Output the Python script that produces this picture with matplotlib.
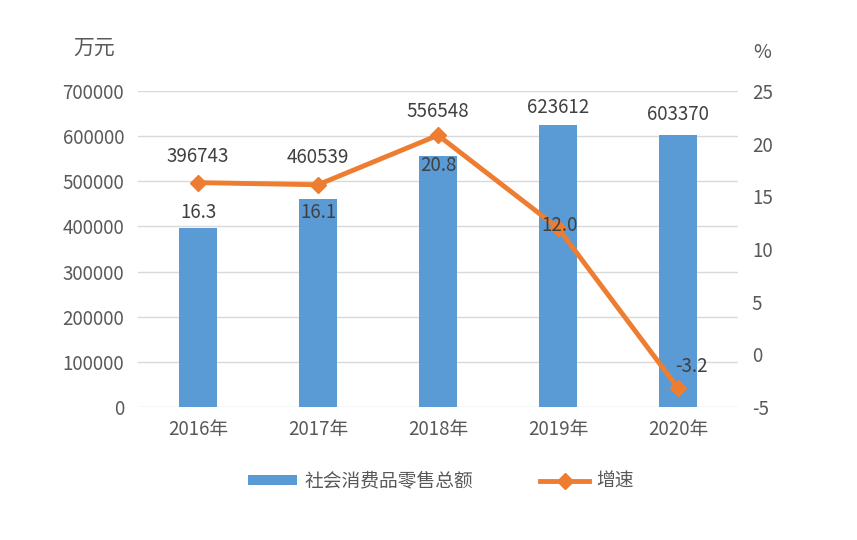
import matplotlib.pyplot as plt
import numpy as np

plt.rcParams['font.family'] = ['Noto Sans CJK SC', 'DejaVu Sans']
plt.rcParams['axes.unicode_minus'] = False

years = ["2016年", "2017年", "2018年", "2019年", "2020年"]
sales = [396743, 460539, 556548, 623612, 603370]
growth = [16.3, 16.1, 20.8, 12.0, -3.2]

# label offsets in pixels (dx, dy) from the bar top / line point
bar_off = [(0, 71), (0, 42), (0, 44), (0, 18), (0, 20)]
line_off = [(0, -30), (0, -28), (0, -30), (2, 2), (13, 22)]

grey = "#595959"
blue = "#5B9BD5"
orange = "#ED7D31"
fs = 13.5

fig = plt.figure(figsize=(8.57, 5.4), dpi=100)
ax1 = fig.add_axes([138/857, 1-407/540, 600/857, 316/540])
x = np.arange(len(years))

ax1.bar(x, sales, width=0.32, color=blue, zorder=2, label="社会消费品零售总额")
ax1.set_ylim(0, 700000)
ax1.set_xlim(-0.5, 4.5)
ax1.set_yticks(np.arange(0, 700001, 100000))
ax1.set_xticks(x, years)
ax1.grid(axis="y", color="#d9d9d9", linewidth=1, zorder=0)
for s in ax1.spines.values():
    s.set_visible(False)
ax1.tick_params(length=0, labelsize=fs, labelcolor=grey)
ax1.tick_params(axis="y", pad=10)
ax1.tick_params(axis="x", pad=9)

ax2 = ax1.twinx()
ax2.plot(x, growth, color=orange, linewidth=3.5, marker="D", markersize=8,
         zorder=3, label="增速")
ax2.set_ylim(-5, 25)
ax2.set_yticks(np.arange(-5, 26, 5))
for s in ax2.spines.values():
    s.set_visible(False)
ax2.tick_params(length=0, labelsize=fs, labelcolor=grey, pad=10)

for i in range(len(x)):
    dx, dy = bar_off[i]
    ax1.annotate(str(sales[i]), (x[i], sales[i]), xytext=(dx*0.72, dy*0.72),
                 textcoords="offset points", ha="center", va="center",
                 fontsize=fs, color="#404040", zorder=5)
    dx, dy = line_off[i]
    ax2.annotate(f"{growth[i]:.1f}", (x[i], growth[i]), xytext=(dx*0.72, dy*0.72),
                 textcoords="offset points", ha="center", va="center",
                 fontsize=fs, color="#404040", zorder=5)

fig.text(94/857, 1-48/540, "万元", ha="center", va="center", fontsize=15, color=grey)
fig.text(762/857, 1-52/540, "%", ha="center", va="center", fontsize=14, color=grey)

h1, l1 = ax1.get_legend_handles_labels()
h2, l2 = ax2.get_legend_handles_labels()
fig.legend(h1 + h2, l1 + l2, loc="center", bbox_to_anchor=(441/857, 1-481/540),
           ncol=2, frameon=False, fontsize=fs, labelcolor=grey,
           columnspacing=3.6, handlelength=2.6, handleheight=0.5,
           handletextpad=0.4)

fig.savefig("out.png", dpi=100)
